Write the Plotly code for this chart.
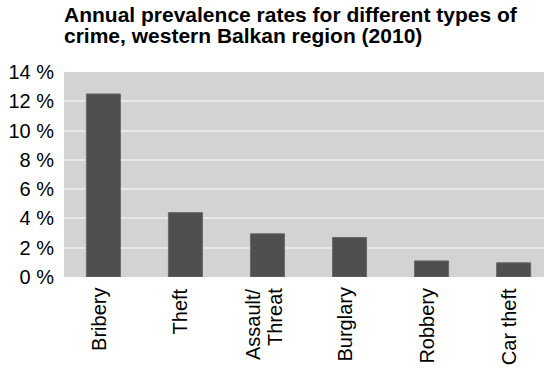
import plotly.graph_objects as go

# Annual prevalence of victimisation by crime type (percent)
crime_types = ["Bribery", "Theft", "Assault/Threat", "Burglary", "Robbery", "Car theft"]
prevalence = [12.5, 4.4, 2.95, 2.7, 1.1, 0.97]

y_ticks = [0, 2, 4, 6, 8, 10, 12, 14]

title_lines = [
    "Annual prevalence rates for different types of",
    "crime, western Balkan region (2010)",
]

font_family = "Liberation Sans, Arial, sans-serif"

W, H = 544, 368
M_L, M_R, M_T, M_B = 64, 0, 72, 91
plot_h = H - M_T - M_B
plot_w = W - M_L - M_R

fig = go.Figure(
    go.Bar(
        x=crime_types,
        y=prevalence,
        width=0.415,
        marker=dict(color="#4f4f4f", line=dict(color="#6a6a6a", width=1)),
        hoverinfo="x+y",
    )
)

fig.update_layout(
    width=W,
    height=H,
    margin=dict(l=M_L, r=M_R, t=M_T, b=M_B),
    paper_bgcolor="white",
    plot_bgcolor="#d3d3d3",
    showlegend=False,
    font=dict(family=font_family, color="black", size=20),
)

# Bold two-line title, set line by line for tight leading
for i, line in enumerate(title_lines):
    top_px = 1 + i * 20.5
    fig.add_annotation(
        text=f"<b>{line}</b>",
        xref="paper", yref="paper",
        x=(62 - M_L) / plot_w, y=1 + (M_T - top_px) / plot_h,
        xanchor="left", yanchor="top", align="left",
        showarrow=False,
        font=dict(family=font_family, size=21, color="black"),
    )

# Vertical category labels; the two-line label gets tighter line spacing
for cat in crime_types:
    if "/" in cat:
        first, second = cat.split("/")
        parts = [(first + "/", -14.5), (second, 7.5)]
    else:
        parts = [(cat, -5)]
    for txt, dx in parts:
        fig.add_annotation(
            text=txt,
            x=cat, y=0, xref="x", yref="y",
            xanchor="center", yanchor="top",
            xshift=dx, yshift=-9,
            textangle=-90,
            showarrow=False,
            font=dict(family=font_family, size=20, color="black"),
        )

fig.update_xaxes(
    range=[-0.48, 5.37],
    showticklabels=False,
    showgrid=False,
    showline=False,
    zeroline=False,
    ticks="",
)

fig.update_yaxes(
    range=[0, 14],
    tickvals=y_ticks,
    ticktext=[f"{v} %" for v in y_ticks],
    showgrid=True,
    gridcolor="#e8e8e8",
    gridwidth=2,
    zeroline=False,
    showline=False,
    ticks="",
    ticklabelstandoff=9,
    tickfont=dict(size=20),
)

fig.write_html("out.html")
